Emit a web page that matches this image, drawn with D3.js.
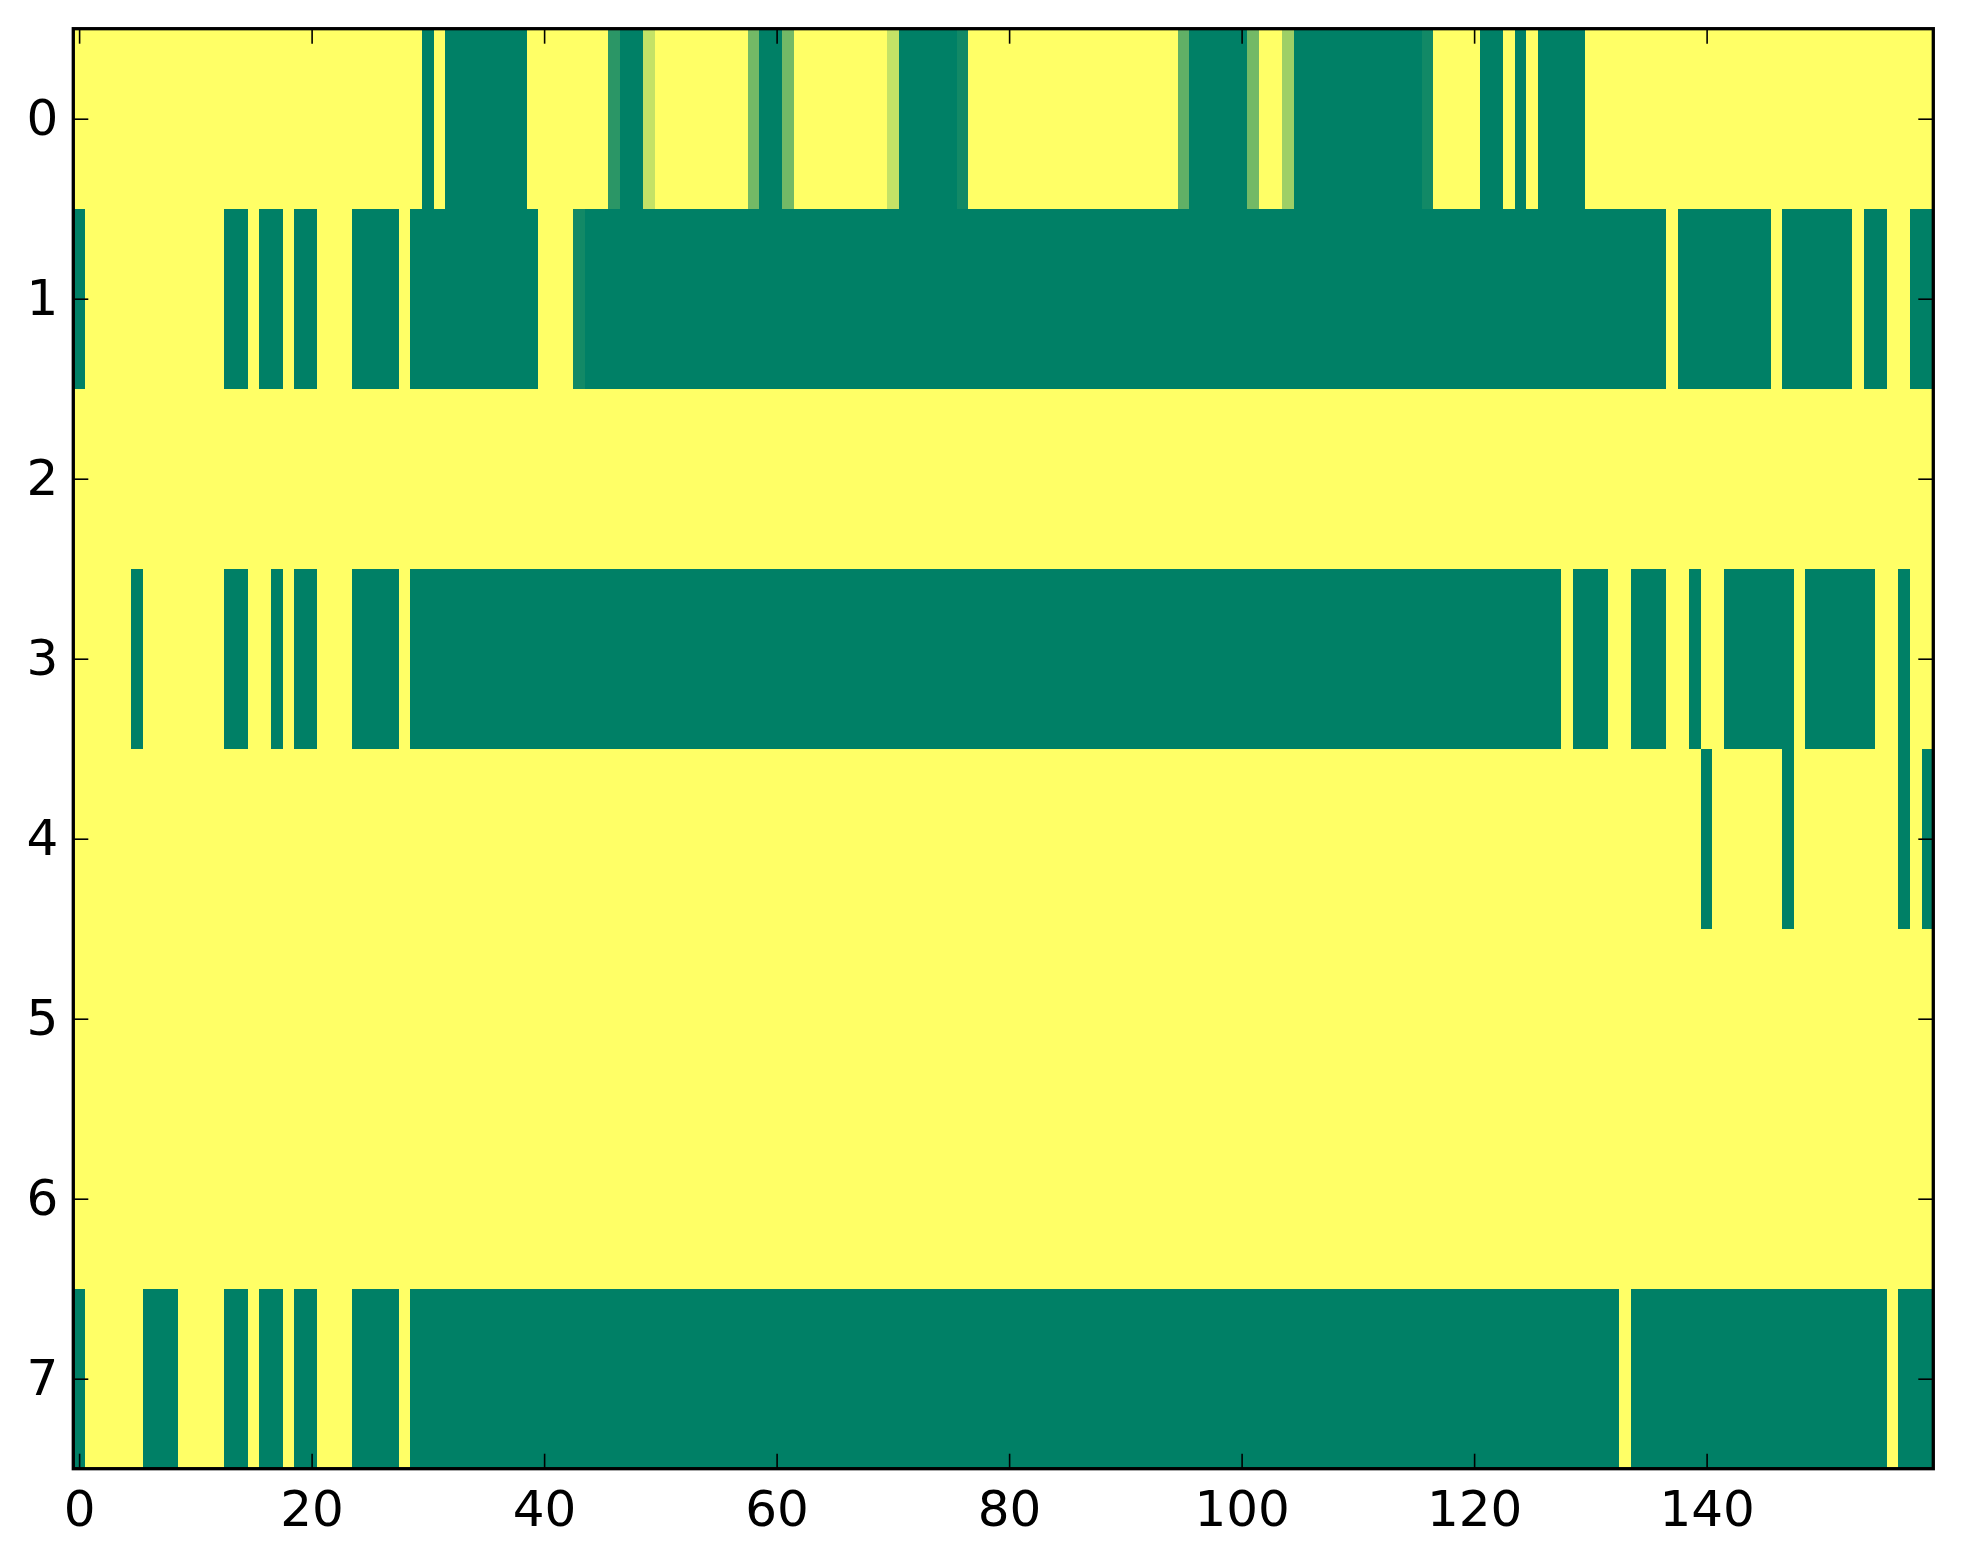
<!DOCTYPE html>
<html>
<head>
<meta charset="utf-8">
<script src="https://cdn.jsdelivr.net/npm/d3@7"></script>
<style>
  body { margin: 0; background: #fff; }
  text { font-family: "DejaVu Sans", sans-serif; }
</style>
</head>
<body>
<svg id="chart"></svg>
<script>
// columns 0..159, rows 0..7; every cell is 1 (yellow) unless listed in a run
// runs are [firstCol, lastCol, value]
const nCols = 160;
const nRows = 8;
const xTicks = [0, 20, 40, 60, 80, 100, 120, 140];
const yTicks = [0, 1, 2, 3, 4, 5, 6, 7];

const row0 = [[30, 30, 0], [32, 38, 0], [46, 46, 0.17], [47, 48, 0], [49, 49, 0.77],
  [58, 58, 0.45], [59, 60, 0], [61, 61, 0.45], [70, 70, 0.77], [71, 75, 0], [76, 76, 0.07],
  [95, 95, 0.38], [96, 100, 0], [101, 101, 0.45], [104, 104, 0.62], [105, 115, 0],
  [116, 116, 0.07], [121, 122, 0], [124, 124, 0], [126, 129, 0]];
const row1 = [[0, 0, 0], [13, 14, 0], [16, 17, 0], [19, 20, 0], [24, 27, 0], [29, 39, 0],
  [43, 43, 0.07], [44, 136, 0], [138, 145, 0], [147, 152, 0], [154, 155, 0], [158, 159, 0]];
const row2 = [];
const row3 = [[5, 5, 0], [13, 14, 0], [17, 17, 0], [19, 20, 0], [24, 27, 0], [29, 127, 0],
  [129, 131, 0], [134, 136, 0], [139, 139, 0], [142, 147, 0], [149, 154, 0], [157, 157, 0]];
const row4 = [[140, 140, 0], [147, 147, 0], [157, 157, 0], [159, 159, 0]];
const row5 = [];
const row6 = [];
const row7 = [[0, 0, 0], [6, 8, 0], [13, 14, 0], [16, 17, 0], [19, 20, 0], [24, 27, 0],
  [29, 132, 0], [134, 155, 0], [157, 159, 0]];

const rows = [row0, row1, row2, row3, row4, row5, row6, row7];

// build the cell table from the runs
let cells = [];
rows.forEach((runs, r) => {
    let vals = new Array(nCols).fill(1);
    runs.forEach(([a, b, v]) => { for (let c = a; c <= b; c++) vals[c] = v; });
    vals.forEach((v, c) => cells.push({ row: r, col: c, value: v }));
});

let W = 1963, H = 1564;
let margin = { top: 28.7, right: W - 1933.3, bottom: H - 1468.7, left: 73.3 },
    width = W - margin.left - margin.right,
    height = H - margin.top - margin.bottom;

let svg = d3.select("#chart")
    .attr("width", W)
    .attr("height", H);

let g = svg.append("g")
    .attr("transform", "translate(" + margin.left + "," + margin.top + ")");

let xScale = d3.scaleLinear().domain([-0.5, nCols - 0.5]).range([0, width]);
let yScale = d3.scaleLinear().domain([-0.5, nRows - 0.5]).range([0, height]);

// summer colormap
let color = d3.scaleLinear().domain([0, 1]).range(["#008066", "#ffff66"]);

g.append("g")
    .selectAll("rect")
    .data(cells)
    .enter().append("rect")
    .attr("x", d => xScale(d.col - 0.5))
    .attr("y", d => yScale(d.row - 0.5))
    .attr("width", d => xScale(d.col + 0.5) - xScale(d.col - 0.5))
    .attr("height", d => yScale(d.row + 0.5) - yScale(d.row - 0.5))
    .attr("fill", d => color(d.value))
    .attr("shape-rendering", "crispEdges");

const tickLen = 15;

function styleAxis(sel) {
    sel.select(".domain").remove();
    sel.selectAll(".tick line").attr("stroke", "#000").attr("stroke-width", 1.6);
    sel.selectAll(".tick text")
        .attr("fill", "#000")
        .style("font-family", "'DejaVu Sans', sans-serif")
        .style("font-size", "50px");
}

g.append("g")
    .attr("transform", "translate(0," + height + ")")
    .call(d3.axisBottom(xScale).tickValues(xTicks).tickSizeInner(-tickLen).tickSizeOuter(0).tickPadding(22))
    .call(styleAxis);

g.append("g")
    .call(d3.axisTop(xScale).tickValues(xTicks).tickSizeInner(-tickLen).tickSizeOuter(0).tickFormat(""))
    .call(styleAxis);

g.append("g")
    .call(d3.axisLeft(yScale).tickValues(yTicks).tickSizeInner(-tickLen).tickSizeOuter(0).tickPadding(15))
    .call(styleAxis);

g.append("g")
    .attr("transform", "translate(" + width + ",0)")
    .call(d3.axisRight(yScale).tickValues(yTicks).tickSizeInner(-tickLen).tickSizeOuter(0).tickFormat(""))
    .call(styleAxis);

// frame
g.append("rect")
    .attr("width", width)
    .attr("height", height)
    .attr("fill", "none")
    .attr("stroke", "#000")
    .attr("stroke-width", 3.3);
</script>
</body>
</html>
